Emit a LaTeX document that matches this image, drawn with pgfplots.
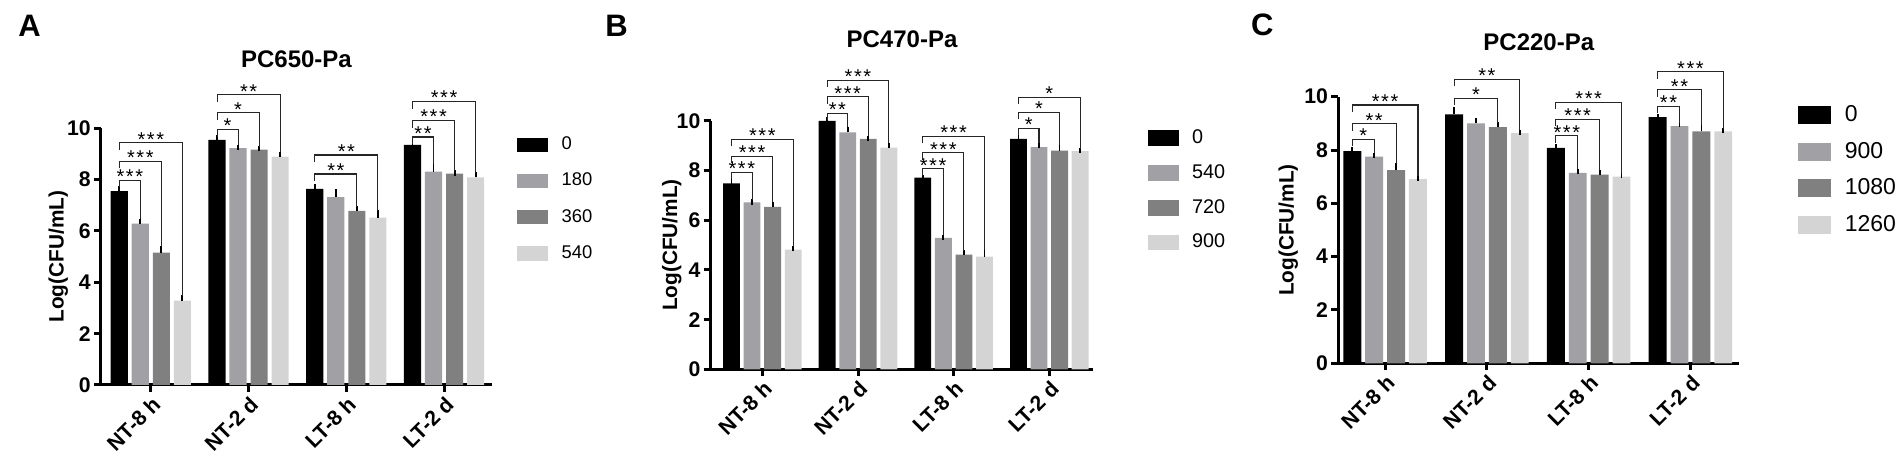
\documentclass[border=0pt]{standalone}
\usepackage{pgfplots}
\usepackage{pgfplotstable}
\pgfplotsset{compat=1.18}
\usepackage{fontspec}
\setmainfont{Liberation Sans}
\definecolor{gA}{RGB}{160,160,165}
\definecolor{gB}{RGB}{128,128,128}
\definecolor{gC}{RGB}{212,212,212}

% one row per group: v0 e0 v1 e1 v2 e2 v3 e3
\pgfplotstableread{
v0 e0 v1 e1 v2 e2 v3 e3
7.55 0.10 6.29 0.09 5.16 0.14 3.29 0.10
9.55 0.10 9.23 0.03 9.17 0.04 8.90 0.08
7.64 0.08 7.32 0.20 6.78 0.09 6.52 0.18
9.35 0.02 8.31 0.20 8.23 0.03 8.09 0.10
}\tA
\pgfplotstableread{
v0 e0 v1 e1 v2 e2 v3 e3
7.49 0.07 6.72 0.02 6.54 0.10 4.82 0.04
10.00 0.04 9.54 0.12 9.28 0.02 8.93 0.09
7.72 0.01 5.29 0.03 4.62 0.07 4.54 0.17
9.28 0.13 8.95 0.07 8.81 0.13 8.79 0.02
}\tB
\pgfplotstableread{
v0 e0 v1 e1 v2 e2 v3 e3
7.96 0.06 7.75 0.05 7.25 0.15 6.91 0.03
9.34 0.19 9.00 0.10 8.86 0.09 8.63 0.03
8.08 0.05 7.14 0.06 7.08 0.09 7.00 0.03
9.23 0.02 8.90 0.05 8.70 0.15 8.70 0.02
}\tC

\def\sone{*}
\def\stwo{*\kern0.8pt*}
\def\sthree{*\kern0.8pt*\kern0.8pt*}
% \sig{group}{k}{yline}{ybottom right}{stars}{left leg}
\newcommand\sig[6]{%
  \draw[line width=0.55pt, black!85]
    (axis cs:{#1-0.3225},{#3-#6}) -- (axis cs:{#1-0.3225},#3)
    -- (axis cs:{#1+(#2-1.5)*0.215},#3) -- (axis cs:{#1+(#2-1.5)*0.215},#4);
  \node[anchor=base, inner sep=0pt, font=\fontsize{10}{10}\selectfont, yshift=-1.7pt]
    at (axis cs:{#1-0.3225+#2*0.1075},#3) {#5};}

\pgfplotsset{
  panel/.style={
    scale only axis, anchor=south west,
    ybar, bar width=0.176, bar shift=0pt,
    ymin=0, ymax=10, ytick={0,2,4,6,8,10},
    xtick={0,1,2,3}, xticklabels={NT-8 h,NT-2 d,LT-8 h,LT-2 d},
    axis x line*=bottom, axis y line*=left,
    axis line style={line width=1.5pt, -},
    every tick/.style={line width=1.5pt, black},
    major tick length=3.5pt, tick align=outside,
    clip=false,
    /pgf/number format/assume math mode=true,
    tick label style={font=\bfseries\fontsize{10.6}{12}\selectfont},
    yticklabel style={inner sep=1.5pt},
    xticklabel style={rotate=45, anchor=north east, inner sep=1pt},
    ylabel={Log(CFU/mL)},
    ylabel style={font=\bfseries\fontsize{10.4}{12}\selectfont, anchor=center},
    title style={font=\bfseries\fontsize{12}{14}\selectfont, anchor=base},
    legend cell align=left,
    error bars/error bar style={line width=0.9pt, black},
    error bars/error mark options={line width=0.9pt, black, mark size=1.3pt},
  },
  s0/.style={fill=black, draw=none, legend image code/.code={\fill (0pt,-\lh) rectangle (\lw,\lh);}},
  s1/.style={fill=gA, draw=none, legend image code/.code={\fill (0pt,-\lh) rectangle (\lw,\lh);}},
  s2/.style={fill=gB, draw=none, legend image code/.code={\fill (0pt,-\lh) rectangle (\lw,\lh);}},
  s3/.style={fill=gC, draw=none, legend image code/.code={\fill (0pt,-\lh) rectangle (\lw,\lh);}},
}

\begin{document}
\begin{tikzpicture}
\useasboundingbox (0,0) rectangle (951pt,229pt);

\node[anchor=base west, inner sep=0pt, font=\bfseries\fontsize{15.5}{16}\selectfont] at (9pt,210.5pt) {A};
\node[anchor=base west, inner sep=0pt, font=\bfseries\fontsize{15.5}{16}\selectfont] at (302.5pt,210.6pt) {B};
\node[anchor=base west, inner sep=0pt, font=\bfseries\fontsize{15.5}{16}\selectfont] at (625.3pt,211pt) {C};

% ---------------- A ----------------
\def\lw{15.85pt}\def\lh{3.575pt}
\begin{axis}[panel, at={(50.5pt,36.5pt)}, width=195.5pt, height=128.35pt,
  xmin=-0.51, xmax=3.49,
  title={PC650-Pa}, title style={at={(axis description cs:0.5,1.191)}},
  ylabel style={at={(axis description cs:-0.109,0.5)}},
  legend style={draw=none, fill=none, at={(axis description cs:1.063,0.967)}, anchor=north west,
    inner sep=0pt, outer sep=0pt, row sep=10.2pt, font=\fontsize{9.2}{10}\selectfont,
    nodes={inner sep=0pt}, /tikz/every odd column/.append style={column sep=6.7pt}},
]
\addplot[s0, error bars/.cd, y dir=plus, y explicit] table[x expr=\coordindex-0.3225, y=v0, y error=e0]{\tA};
\addplot[s1, error bars/.cd, y dir=plus, y explicit] table[x expr=\coordindex-0.1075, y=v1, y error=e1]{\tA};
\addplot[s2, error bars/.cd, y dir=plus, y explicit] table[x expr=\coordindex+0.1075, y=v2, y error=e2]{\tA};
\addplot[s3, error bars/.cd, y dir=plus, y explicit] table[x expr=\coordindex+0.3225, y=v3, y error=e3]{\tA};
\legend{0,180,360,540}
\sig{0}{1}{7.98}{6.46}{\sthree}{0.28}
\sig{0}{2}{8.72}{5.38}{\sthree}{0.28}
\sig{0}{3}{9.43}{3.47}{\sthree}{0.28}
\sig{1}{1}{9.95}{9.34}{\sone}{0.28}
\sig{1}{2}{10.6}{9.29}{\sone}{0.28}
\sig{1}{3}{11.3}{9.06}{\stwo}{0.28}
\sig{2}{2}{8.22}{6.95}{\stwo}{0.28}
\sig{2}{3}{8.96}{6.78}{\stwo}{0.28}
\sig{3}{1}{9.66}{8.59}{\stwo}{0.28}
\sig{3}{2}{10.31}{8.34}{\sthree}{0.28}
\sig{3}{3}{11.05}{8.27}{\sthree}{0.28}
\end{axis}

% ---------------- B ----------------
\def\lw{15.5pt}\def\lh{3.925pt}
\begin{axis}[panel, at={(355.35pt,44.35pt)}, width=191.3pt, height=124.15pt,
  xmin=-0.54, xmax=3.46,
  title={PC470-Pa}, title style={at={(axis description cs:0.5,1.246)}},
  ylabel style={at={(axis description cs:-0.102,0.5)}},
  legend style={draw=none, fill=none, at={(axis description cs:1.144,0.964)}, anchor=north west,
    inner sep=0pt, outer sep=0pt, row sep=8.95pt, font=\fontsize{9.9}{11}\selectfont,
    nodes={inner sep=0pt}, /tikz/every odd column/.append style={column sep=6.35pt}},
]
\addplot[s0, error bars/.cd, y dir=plus, y explicit] table[x expr=\coordindex-0.3225, y=v0, y error=e0]{\tB};
\addplot[s1, error bars/.cd, y dir=plus, y explicit] table[x expr=\coordindex-0.1075, y=v1, y error=e1]{\tB};
\addplot[s2, error bars/.cd, y dir=plus, y explicit] table[x expr=\coordindex+0.1075, y=v2, y error=e2]{\tB};
\addplot[s3, error bars/.cd, y dir=plus, y explicit] table[x expr=\coordindex+0.3225, y=v3, y error=e3]{\tB};
\legend{0,540,720,900}
\sig{0}{1}{7.93}{6.82}{\sthree}{0.28}
\sig{0}{2}{8.58}{6.72}{\sthree}{0.28}
\sig{0}{3}{9.26}{4.94}{\sthree}{0.28}
\sig{1}{1}{10.31}{9.74}{\stwo}{0.28}
\sig{1}{2}{10.98}{9.38}{\sthree}{0.28}
\sig{1}{3}{11.64}{9.10}{\sthree}{0.28}
\sig{2}{1}{8.08}{5.40}{\sthree}{0.28}
\sig{2}{2}{8.72}{4.77}{\sthree}{0.28}
\sig{2}{3}{9.38}{4.79}{\sthree}{0.28}
\sig{3}{1}{9.70}{9.10}{\sone}{0.28}
\sig{3}{2}{10.35}{9.02}{\sone}{0.28}
\sig{3}{3}{10.95}{8.89}{\sone}{0.28}
\end{axis}

% ---------------- C ----------------
\def\lw{16.5pt}\def\lh{4.5pt}
\begin{axis}[panel, at={(669.15pt,47.35pt)}, width=200.5pt, height=133.3pt,
  xmin=-0.46, xmax=3.48,
  title={PC220-Pa}, title style={at={(axis description cs:0.5,1.128)}},
  ylabel style={at={(axis description cs:-0.125,0.5)}},
  legend style={draw=none, fill=none, at={(axis description cs:1.146,0.968)}, anchor=north west,
    inner sep=0pt, outer sep=0pt, row sep=8.9pt, font=\fontsize{11.5}{12}\selectfont,
    nodes={inner sep=0pt}, /tikz/every odd column/.append style={column sep=7pt}},
]
\addplot[s0, error bars/.cd, y dir=plus, y explicit] table[x expr=\coordindex-0.3225, y=v0, y error=e0]{\tC};
\addplot[s1, error bars/.cd, y dir=plus, y explicit] table[x expr=\coordindex-0.1075, y=v1, y error=e1]{\tC};
\addplot[s2, error bars/.cd, y dir=plus, y explicit] table[x expr=\coordindex+0.1075, y=v2, y error=e2]{\tC};
\addplot[s3, error bars/.cd, y dir=plus, y explicit] table[x expr=\coordindex+0.3225, y=v3, y error=e3]{\tC};
\legend{0,900,1080,1260}
\sig{0}{1}{8.40}{7.88}{\sone}{0.26}
\sig{0}{2}{8.98}{7.48}{\stwo}{0.26}
\sig{0}{3}{9.69}{7.02}{\sthree}{0.26}
\sig{1}{2}{9.94}{9.03}{\sone}{0.26}
\sig{1}{3}{10.65}{8.74}{\stwo}{0.26}
\sig{2}{1}{8.53}{7.28}{\sthree}{0.26}
\sig{2}{2}{9.15}{7.25}{\sthree}{0.26}
\sig{2}{3}{9.79}{7.11}{\sthree}{0.26}
\sig{3}{1}{9.63}{9.03}{\stwo}{0.26}
\sig{3}{2}{10.26}{8.93}{\stwo}{0.26}
\sig{3}{3}{10.94}{8.80}{\sthree}{0.26}
\end{axis}
\end{tikzpicture}
\end{document}
